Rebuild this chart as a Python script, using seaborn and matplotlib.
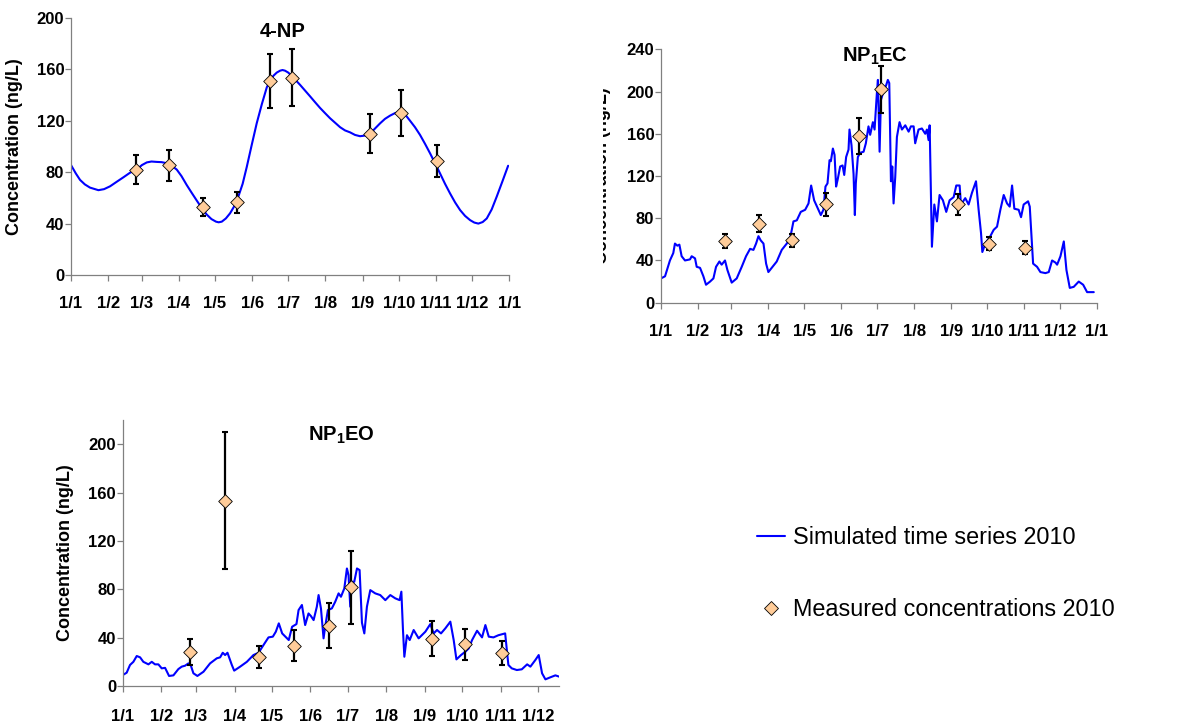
import matplotlib
matplotlib.use("Agg")
import matplotlib.pyplot as plt
import seaborn as sns
from matplotlib.lines import Line2D
from matplotlib.transforms import Bbox, TransformedBbox

# ------------------------------
# Data (day of year 2010, concentration ng/L)
# ------------------------------
month_days = [0, 31, 59, 90, 120, 151, 181, 212, 243, 273, 304, 334, 365]
month_labels = ["1/1", "1/2", "1/3", "1/4", "1/5", "1/6", "1/7",
                "1/8", "1/9", "1/10", "1/11", "1/12", "1/1"]

sample_days = [54, 82, 110, 138, 166, 184, 249, 275, 305]

# 4-NP
np4_sim_days = [0, 4, 7.5, 11.5, 15.8, 22.8, 27.5, 32.5, 38, 43.6, 49, 54.7, 59, 63.1,
                67, 71.4, 75.5, 79.7, 84, 88.1, 92, 96.4, 100.5, 104.7, 109, 113.1, 117,
                120.8, 123, 125.6, 129, 132.5, 136, 139.4, 143, 146.4, 150.5, 154.7,
                159, 163.1, 165.8, 168.6, 171.4, 174.2, 176.2, 178.3, 181, 183.9, 187.3,
                190.8, 195, 199.2, 203.3, 207.5, 211.6, 215.8, 220, 224.2, 228.3, 232.5,
                236.6, 240.8, 245, 249.2, 253.3, 257.5, 261.6, 265.8, 270, 274.2, 278.3,
                282.5, 286.6, 290.8, 295, 299.2, 303.3, 307.5, 311.6, 315.8, 320, 324.2,
                328.3, 332.5, 336, 339.4, 343, 346.4, 350.5, 354.7, 359.5, 364.2]
np4_sim = [85.5, 79, 74, 70.5, 68, 66, 66.8, 69, 72.5, 76, 79.5, 82, 85.5, 87.6,
           88.3, 88, 87.8, 87, 85, 82, 77, 70, 64, 58, 52, 47, 43.5,
           41.5, 41, 41.5, 44, 48, 53.5, 61, 71, 84, 101, 118,
           133, 146, 151, 155, 157.5, 159, 159.5, 159, 157.5, 155, 151.5,
           148, 143.5, 139, 134.5, 130, 126, 122, 118.5, 115, 112.5, 111,
           109, 108, 108.5, 110, 114, 118, 121.5, 124, 126, 127, 125,
           120, 115, 109, 102, 94.6, 87, 79, 71, 63.5, 56.5, 50.5,
           46, 42.7, 40.8, 40, 41.2, 44, 51, 61, 73, 85]
np4_meas = [82, 85.5, 52.6, 56.5, 151, 153.6, 110, 126, 88.6]
np4_err = [11.5, 12, 7, 8, 21, 22, 15, 18, 12.5]

# NP1EC
np1ec_sim_days = [0, 3.4, 7.5, 10.3, 11.7, 13.7, 15.4, 17.3, 20.1, 24.3, 25.7, 28.5,
                  29.9, 32.7, 35.5, 37.7, 41.1, 43.9, 46.1, 48.9, 50.8, 53.6, 55.6, 59.2,
                  63.4, 67.6, 71.2, 74.6, 77.4, 79.6, 81.6, 83.5, 85.8, 88, 89.9, 92.7,
                  96.9, 101.1, 105.3, 108.1, 110.9, 113.7, 117, 120.7, 123.5, 125.7, 128.2,
                  131.8, 133.8, 136, 137.7, 139.4, 141.1, 142.2, 143.9, 145.3, 146.6, 147.8,
                  150, 152, 153.4, 155, 157, 157.8, 159.5, 161.2, 162.3, 163.1, 164.8,
                  166.8, 169.6, 171.5, 173.7, 175.1, 177.4, 178.8, 180.7, 181.6, 183.0,
                  184.1, 186.3, 188.5, 189.9, 191.1, 192.5, 193.6, 194.7, 196.1, 197.5,
                  199.7, 201.7, 204.5, 207.3, 209.2, 211.5, 212.8, 215.6, 218.4, 221.2,
                  222.6, 224, 224.9, 226, 226.8, 228.8, 231, 233.2, 236, 238.8, 241.6,
                  245, 247.2, 250, 251.1, 254.7, 257.5, 260.3, 263.7, 265.9, 267.9, 269,
                  271.5, 275.7, 278.5, 281.3, 284.1, 286.9, 289.7, 291.9, 293.9, 295.8,
                  299.4, 301.4, 303.6, 307.3, 308.7, 311.5, 314.8, 317.6, 321.8, 324.6,
                  327.4, 330.2, 331.6, 334.4, 337.2, 339.4, 342.2, 345.5, 349.7, 353.4,
                  356.7, 362.3]
np1ec_sim = [23, 25, 40, 47, 56, 54, 55, 44, 40, 41, 44, 42,
             34, 33, 25, 17, 20, 23, 34, 39, 36, 40, 31, 19,
             23, 34, 44, 51, 50, 56, 63, 59, 56, 37, 29, 33,
             39, 50, 56, 61, 77, 78, 86, 88, 94, 111, 97,
             88, 83, 88, 110, 113, 135, 134, 146, 140, 110, 116,
             129, 130, 121, 138, 145, 164, 149, 122, 83, 113, 138,
             142, 143, 151, 167, 159, 171, 164, 198, 211, 143,
             192, 200, 206, 211, 208, 115, 129, 94, 119, 157,
             171, 164, 168, 162, 167, 167, 151, 164, 165, 160,
             164, 154, 168, 100, 53, 93, 77, 102, 97, 86, 97,
             100, 111, 111, 93, 99, 93, 104, 115, 88, 66, 48,
             56, 63, 69, 72, 88, 102, 94, 91, 111, 89,
             88, 81, 93, 96, 91, 37, 34, 29, 28, 29,
             40, 38, 36, 44, 58, 31, 14, 15, 20, 17,
             10, 10]
np1ec_meas = [58.4, 75, 59, 93, 158, 202, 93, 56, 52]
np1ec_err = [6.5, 8.5, 6.5, 11, 17, 22, 10, 6, 6]

# NP1EO
np1eo_sim_days = [0, 3.2, 5.9, 8.6, 11.3, 14, 16.6, 20.7, 23.4, 26, 28.7, 31.4, 34.1,
                  37.3, 40.8, 44.8, 47.5, 50.2, 52.9, 54.8, 56.9, 60.1, 65, 70.3, 75.7,
                  78.4, 80.5, 82.4, 84.3, 87.8, 89.7, 94.5, 99.9, 105.2, 109.3, 113.3,
                  117.3, 120.8, 123.2, 125.6, 128.3, 133.6, 136.3, 139.8, 141.5, 144.2,
                  146.8, 149.5, 151.4, 153.6, 156.2, 157.6, 159.5, 161.6, 162.9, 165.1,
                  168.3, 171, 173.7, 175.6, 178.3, 180.4, 181.7, 183.1, 184.4, 186.3,
                  188.5, 190.6, 192.5, 194.4, 196.5, 199.2, 203.2, 207.2, 211.3, 215.3,
                  219.3, 222.8, 224.2, 225.5, 226.6, 228.7, 230.9, 234.1, 238.1, 243.5,
                  247.5, 250.2, 252.9, 256.1, 259.6, 263.6, 266.3, 268.5, 272.2, 275.7,
                  278.4, 281.1, 285.1, 289.1, 291.8, 294.5, 298.3, 302.3, 307.7, 310.3,
                  313, 317.1, 321.1, 325.4, 328, 332, 334.7, 337.4, 340.1, 344.1, 348.1,
                  351.3]
np1eo_sim = [9, 11, 17.4, 20, 24.8, 23.7, 20, 17.9, 20, 17.9, 17.9, 14.6, 15,
             8.3, 8.8, 14, 16, 16.8, 18.7, 17, 10.5, 8.3, 11.8, 18.7, 22.9,
             23.7, 27.5, 25.6, 27.5, 17.4, 12.7, 16, 20, 25.6, 27.5, 33.9,
             40.2, 40.8, 44.9, 51.8, 43.5, 38, 49, 51.2, 62.8, 67,
             50.4, 60, 57.9, 54.5, 65.6, 75.2, 64.2, 39.4, 49, 62.8,
             64.2, 69.7, 76.6, 73.8, 80.7, 97.2, 91.7, 65.6, 86.2, 86.2,
             97.2, 95.9, 52.3, 43.5, 65.6, 79.3, 76.6, 75.2, 71, 75.2,
             72.5, 71, 78, 46.3, 24.2, 42, 38, 46.3, 39.4, 44.9,
             51.2, 43.5, 46.3, 43.5, 47.7, 53.2, 38, 22, 25.6, 28.4,
             31.1, 38, 45.7, 40.2, 50.4, 40.8, 40.2, 42, 43.5, 17.4,
             14.6, 13.2, 13.8, 17.9, 16, 21.5, 25.6, 10.5, 5.5, 7.2, 8.8,
             7.7]
np1eo_meas = [28, 153.4, 24, 33.3, 50, 81.5, 39, 34.4, 27.3]
np1eo_err = [11, 57, 9, 13, 18.5, 30.5, 14.6, 13, 10.3]

# ------------------------------
# Style
# ------------------------------
sns.set_style("ticks")
plt.rcParams["font.family"] = ["Liberation Sans", "DejaVu Sans"]
plt.rcParams["mathtext.default"] = "regular"
plt.rcParams["text.color"] = "black"
plt.rcParams["axes.labelcolor"] = "black"

LINE_COLOR = "#0000FF"
MARKER_FACE = "#FFCC99"
SPINE_COLOR = "#808080"

fig = plt.figure(figsize=(11.82, 7.25), dpi=100)
ax1 = fig.add_axes([0.0601, 0.6207, 0.3706, 0.3545])
ax2 = fig.add_axes([0.5592, 0.5825, 0.3689, 0.3495])
ax3 = fig.add_axes([0.1038, 0.0538, 0.3691, 0.3669])


def draw_panel(ax, sim_days, sim, meas, err, title, title_xy, ymax, yticks,
               xmax, n_xticks, xpad, label_x):
    sns.lineplot(x=sim_days, y=sim, ax=ax, color=LINE_COLOR, lw=1.5)
    ax.errorbar(sample_days, meas, yerr=err, fmt="none", ecolor="black",
                elinewidth=1.6, capsize=2.2, capthick=1.5, zorder=3)
    sns.scatterplot(x=sample_days, y=meas, ax=ax, marker="D", s=48,
                    color=MARKER_FACE, edgecolor="black", linewidth=0.6, zorder=4)
    ax.set_xlim(0, xmax)
    ax.set_ylim(0, ymax)
    ax.set_xticks(month_days[:n_xticks], labels=month_labels[:n_xticks],
                  fontweight="bold", fontsize=12)
    ax.set_yticks(yticks, labels=[str(t) for t in yticks],
                  fontweight="bold", fontsize=12)
    ax.tick_params(axis="both", direction="out", length=4.3, width=0.9,
                   color=SPINE_COLOR, labelcolor="black")
    ax.tick_params(axis="x", pad=xpad)
    ax.tick_params(axis="y", pad=0.5)
    for side in ["top", "right"]:
        ax.spines[side].set_visible(False)
    for side in ["left", "bottom"]:
        ax.spines[side].set_color(SPINE_COLOR)
        ax.spines[side].set_linewidth(0.9)
    ax.set_xlabel("")
    ax.set_ylabel("Concentration (ng/L)", fontsize=13, fontweight="bold",
                  color="black")
    ax.yaxis.set_label_coords(label_x, 0.5)
    ax.text(title_xy[0], title_xy[1], title, transform=ax.transAxes,
            ha="center", va="center", fontsize=14.5, fontweight="bold")


draw_panel(ax1, np4_sim_days, np4_sim, np4_meas, np4_err, "4-NP", (0.484, 0.946),
           200, [0, 40, 80, 120, 160, 200], 365, 13, 11, -0.11)
draw_panel(ax2, np1ec_sim_days, np1ec_sim, np1ec_meas, np1ec_err,
           r"NP$_\mathregular{1}$EC", (0.49, 0.972),
           240, [0, 40, 80, 120, 160, 200, 240], 365, 13, 11, -0.115)
draw_panel(ax3, np1eo_sim_days, np1eo_sim, np1eo_meas, np1eo_err,
           r"NP$_\mathregular{1}$EO", (0.502, 0.944),
           220, [0, 40, 80, 120, 160, 200], 351, 12, 12, -0.112)

# the NP1EC y label is cut off on its left half in the original
lab = ax2.yaxis.label
lab.set_clip_box(TransformedBbox(Bbox([[603 / 1182, 0], [1, 1]]), fig.transFigure))
lab.set_clip_on(True)

# ------------------------------
# Legend
# ------------------------------
handles = [
    Line2D([], [], color=LINE_COLOR, lw=1.5),
    Line2D([], [], ls="none", marker="D", markersize=7, markerfacecolor=MARKER_FACE,
           markeredgecolor="black", markeredgewidth=0.6),
]
fig.legend(handles, ["Simulated time series 2010", "Measured concentrations 2010"],
           loc="upper left", bbox_to_anchor=(0.6404, 0.2745), frameon=False,
           fontsize=16.8, handlelength=1.2, handletextpad=0.35, labelspacing=2.1,
           borderpad=0, borderaxespad=0, labelcolor="black")

plt.savefig("out.png", dpi=100)
plt.close()
